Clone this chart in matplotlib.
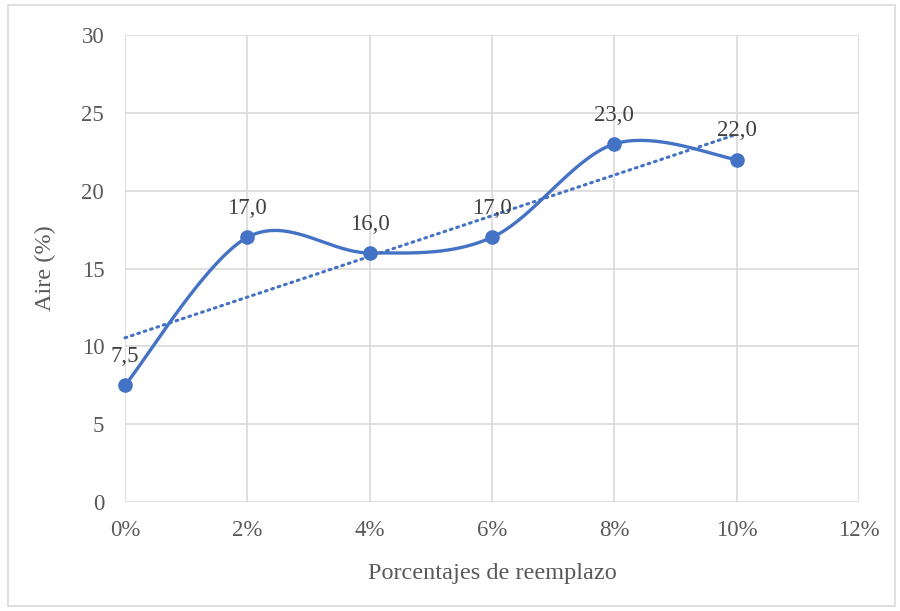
import matplotlib
matplotlib.use("Agg")
import matplotlib.pyplot as plt
from matplotlib.patches import Rectangle
import numpy as np

# Data: air content vs replacement percentage
reemplazo = [0, 2, 4, 6, 8, 10]
aire = [7.5, 17.0, 16.0, 17.0, 23.0, 22.0]
xticks = [0, 2, 4, 6, 8, 10, 12]
yticks = [0, 5, 10, 15, 20, 25, 30]

BLUE = "#4472C4"
plt.rcParams["font.family"] = ["Liberation Serif", "DejaVu Serif"]


def smooth_curve(xs, ys, n=40):
    """Catmull-Rom style Bezier smoothing (like spreadsheet smoothed lines)."""
    pts = np.column_stack([xs, ys]).astype(float)
    out = []
    for i in range(len(pts) - 1):
        p0 = pts[max(i - 1, 0)]
        p1 = pts[i]
        p2 = pts[i + 1]
        p3 = pts[min(i + 2, len(pts) - 1)]
        c1 = p1 + (p2 - p0) / 6.0
        c2 = p2 - (p3 - p1) / 6.0
        t = np.linspace(0, 1, n)[:, None]
        seg = ((1 - t) ** 3) * p1 + 3 * ((1 - t) ** 2) * t * c1 + 3 * (1 - t) * t ** 2 * c2 + t ** 3 * p2
        out.append(seg if i == 0 else seg[1:])
    curve = np.vstack(out)
    return curve[:, 0], curve[:, 1]


fig = plt.figure(figsize=(9, 6.11), dpi=100)
ax = fig.add_axes([0.1389, 0.1784, 0.8155, 0.7643])

# outer chart border
fig.patches.append(Rectangle((0.009, 0.008), 0.985, 0.984, transform=fig.transFigure,
                             fill=False, edgecolor="#d9d9d9", linewidth=1.2))

sx, sy = smooth_curve(reemplazo, aire)
ax.plot(sx, sy, color=BLUE, linewidth=2.4, zorder=3, solid_capstyle="round", clip_on=False)
ax.plot(reemplazo, aire, "o", color=BLUE, markersize=9.5, zorder=4, clip_on=False)

# linear trendline
slope, intercept = np.polyfit(reemplazo, aire, 1)
tx = np.array([reemplazo[0], reemplazo[-1]])
ax.plot(tx, slope * tx + intercept, color=BLUE, linewidth=2.2, linestyle=(0, (0.6, 1.6)),
        dash_capstyle="round", zorder=2, clip_on=False)

for x, y in zip(reemplazo, aire):
    ax.annotate(f"{y:.1f}".replace(".", ","), (x, y), xytext=(0, 13), textcoords="offset points",
                ha="center", va="bottom", fontsize=16.5, color="#404040", zorder=5)

ax.set_xlim(0, 12)
ax.set_ylim(0, 30)
ax.set_xticks(xticks)
ax.set_xticklabels([f"{v}%" for v in xticks])
ax.set_yticks(yticks)
ax.grid(True, color="#d9d9d9", linewidth=1.2)
ax.set_axisbelow(True)
for s in ax.spines.values():
    s.set_visible(False)
ax.tick_params(length=0, labelsize=16.5, labelcolor="#595959", pad=13)
ax.tick_params(axis="y", pad=15)

ax.set_xlabel("Porcentajes de reemplazo", fontsize=17.5, color="#595959", labelpad=16)
ax.set_ylabel("Aire (%)", fontsize=17.5, color="#595959", labelpad=18)

fig.savefig("out.png", dpi=100, facecolor="white")
